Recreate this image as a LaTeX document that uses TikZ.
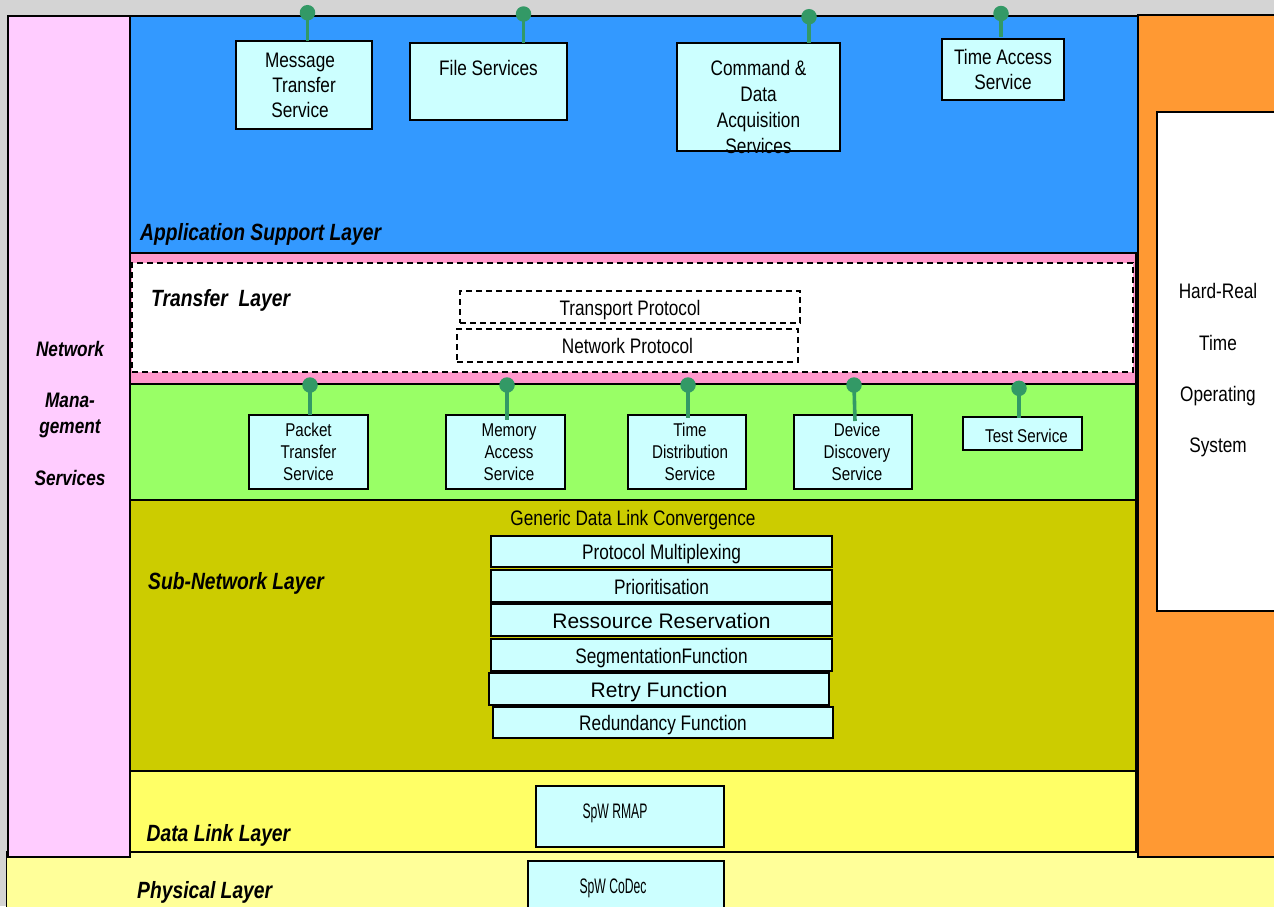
\documentclass[tikz,border=0pt]{standalone}
\usepackage{fontspec}
\setmainfont{Liberation Sans}
\newfontfamily\nar[FakeStretch=0.82]{Liberation Sans}
\newfontfamily\vnar[FakeStretch=0.58]{Liberation Sans}
\definecolor{bggray}{HTML}{D4D4D4}
\definecolor{nmspink}{HTML}{FFCCFF}
\definecolor{aslblue}{HTML}{3399FF}
\definecolor{rtosorange}{HTML}{FF9933}
\definecolor{trfpink}{HTML}{FF99CC}
\definecolor{grn}{HTML}{99FF66}
\definecolor{olive}{HTML}{CCCC00}
\definecolor{dllyellow}{HTML}{FFFF66}
\definecolor{physyellow}{HTML}{FFFF99}
\definecolor{boxc}{HTML}{CCFFFF}
\definecolor{pinc}{HTML}{339966}
\newcommand\shft[1]{\hspace*{#1pt}}
\begin{document}
\begin{tikzpicture}[x=1pt,y=-1pt,
  lay/.style={draw=black, line width=1.6pt, anchor=north west, inner sep=0pt, outer sep=0pt},
  bx/.style={draw=black, line width=1.8pt, fill=boxc, anchor=north west, inner sep=0pt, outer sep=0pt},
  svc/.style={bx, align=center},
  one/.style={text height=20pt, text depth=4pt},
  f21/.style={font=\nar\fontsize{21}{25}\selectfont},
  f18/.style={font=\nar\fontsize{18.5}{22}\selectfont},
  fr/.style={font=\fontsize{21}{25}\selectfont},
  fv/.style={font=\vnar\fontsize{21}{25}\selectfont},
  lbl/.style={font=\nar\bfseries\itshape\fontsize{23.5}{28}\selectfont, anchor=base west, inner sep=0pt},
  pinline/.style={draw=pinc, line width=3.6pt},
  pin/.style={circle, fill=pinc, minimum size=15.5pt, inner sep=0pt},
  dashbox/.style={draw=black, line width=1.6pt, dash pattern=on 6pt off 4pt, anchor=north west, inner sep=0pt, outer sep=0pt}
]
\useasboundingbox (0,0) rectangle (1274,906);
\fill[bggray] (0,0) rectangle (1274,906);

% layers
\node[lay, line width=1pt, fill=physyellow, minimum width=1290pt, minimum height=70pt] (phys) at (6,851) {};
\node[lay, fill=dllyellow, minimum width=1006pt, minimum height=81pt] (dll) at (130,771) {};
\node[lay, line width=2.2pt, fill=olive, minimum width=1006pt, minimum height=271pt] (snl) at (130,500) {};
\node[lay, fill=grn, minimum width=1006pt, minimum height=116pt] (grl) at (130,384) {};
\node[lay, fill=trfpink, minimum width=1006pt, minimum height=131pt] (trl) at (130,253) {};
\node[dashbox, fill=white, minimum width=1001pt, minimum height=109pt] (trw) at (132,263) {};
\node[lay, fill=aslblue, minimum width=1008pt, minimum height=237pt] (asl) at (130,16) {};
\node[lay, fill=nmspink, minimum width=122pt, minimum height=841pt] (nms) at (8,16) {};
\node[lay, fill=rtosorange, minimum width=150pt, minimum height=842pt] (rtos) at (1138,15) {};
\node[lay, fill=white, minimum width=130pt, minimum height=499pt] (rtosw) at (1157,112) {};

% layer labels
\node[lbl] (laslbl) at (140,240.7) {Application Support Layer};
\node[lbl] (ltrlbl) at (151,306.7) {Transfer\ \ Layer};
\node[lbl] (lsnlbl) at (148,589) {Sub-Network Layer};
\node[lbl] (ldllbl) at (146.5,841.7) {Data Link Layer};
\node[lbl] (lphlbl) at (137,898) {Physical Layer};
\node[font=\nar\bfseries\itshape\fontsize{21}{26}\selectfont, align=center, anchor=north, inner sep=0pt] (nmstxt) at (70,341) {Network\\[25pt]Mana-\\gement\\[26pt]Services};
\node[f21, font=\nar\fontsize{21}{51.3}\selectfont, align=center, anchor=north, inner sep=0pt] (rtostxt) at (1218,283.5) {Hard-Real\\Time\\Operating\\System};

% application services
\node[svc, f21, minimum width=136pt, minimum height=88pt] (mts) at (236,41) {Message\shft{8}\\Transfer\shft{8}\\Service\shft{8}};
\node[bx, minimum width=157pt, minimum height=77pt] (fs) at (410,43) {};
\node[f21, anchor=base, inner sep=0pt] (fstxt) at (488.5,75.5) {File Services};
\node[bx, minimum width=163pt, minimum height=108pt] (cda) at (677,43) {};
\node[f21, font=\nar\fontsize{21}{25.7}\selectfont, align=center, anchor=north, inner sep=0pt] (cdatxt) at (758.5,60.5) {Command \&\\Data\\Acquisition\\Services};
\node[svc, f21, minimum width=122pt, minimum height=61pt] (tas) at (942,39) {Time Access\\Service};

% transfer protocols
\node[dashbox, f21, one, minimum width=340pt, minimum height=32pt] (tp) at (460,291) {Transport Protocol};
\node[dashbox, f21, one, minimum width=341pt, minimum height=33pt] (np) at (457,329) {Network Protocol};

% transfer services
\node[svc, f18, minimum width=119pt, minimum height=74pt] (pts) at (249,415) {Packet\\Transfer\\Service};
\node[svc, f18, minimum width=119pt, minimum height=74pt] (mas) at (446,415) {\shft{7}Memory\\\shft{7}Access\\\shft{7}Service};
\node[svc, f18, minimum width=118pt, minimum height=74pt] (tds) at (628,415) {\shft{6}Time\\\shft{6}Distribution\\\shft{6}Service};
\node[svc, f18, minimum width=118pt, minimum height=74pt] (dds) at (794,415) {\shft{8}Device\\\shft{8}Discovery\\\shft{8}Service};
\node[bx, f18, minimum width=119pt, minimum height=33pt, text height=21pt, text depth=3pt] (ts) at (963,417) {\shft{8}Test Service};

% sub-network functions
\node[f21, anchor=base, inner sep=0pt] (gdlc) at (633,525) {Generic Data Link Convergence};
\node[bx, f21, one, minimum width=341pt, minimum height=31pt] (pm) at (491,536) {Protocol Multiplexing};
\node[bx, f21, one, minimum width=341pt, minimum height=32pt] (pr) at (491,570) {Prioritisation};
\node[bx, fr, one, minimum width=341pt, minimum height=32pt] (rr) at (491,604) {Ressource Reservation};
\node[bx, f21, one, minimum width=341pt, minimum height=32pt] (sf) at (491,639) {SegmentationFunction};
\node[bx, fr, one, minimum width=340pt, minimum height=32pt] (rf) at (489,673) {Retry Function};
\node[bx, f21, one, minimum width=340pt, minimum height=31pt] (rd) at (493,707) {Redundancy Function};

% data link / physical
\node[bx, fv, minimum width=188pt, minimum height=61pt, text height=10pt, text depth=6.4pt] (rmap) at (536,786) {SpW RMAP\shft{30}};
\node[bx, minimum width=196pt, minimum height=60pt] (codec) at (528,861) {};
\node[fv, anchor=base, inner sep=0pt] (codectxt) at (613,893.3) {SpW CoDec};

% pins
\node[pin] (p1) at (307.5,12.7) {};
\draw[pinline] (p1.center) -- (p1.center |- mts.north);
\node[pin] (p2) at (523.5,14) {};
\draw[pinline] (p2.center) -- (p2.center |- fs.north);
\node[pin] (p3) at (809,16.7) {};
\draw[pinline] (p3.center) -- (p3.center |- cda.north);
\node[pin] (p4) at (1001,13.5) {};
\draw[pinline] (p4.center) -- ([yshift=2pt]p4.center |- tas.north);
\node[pin] (p5) at (310,385) {};
\draw[pinline] (p5.center) -- (p5.center |- pts.north);
\node[pin] (p6) at (507,385) {};
\draw[pinline] (p6.center) -- ([yshift=-5pt]p6.center |- mas.north);
\node[pin] (p7) at (688,385) {};
\draw[pinline] (p7.center) -- ([yshift=-3pt]p7.center |- tds.north);
\node[pin] (p8) at (854,385) {};
\draw[pinline] (p8.center) -- ([xshift=1pt,yshift=-6pt]p8.center |- dds.north);
\node[pin] (p9) at (1019,388.3) {};
\draw[pinline] (p9.center) -- ([yshift=-1pt]p9.center |- ts.north);
\end{tikzpicture}
\end{document}
